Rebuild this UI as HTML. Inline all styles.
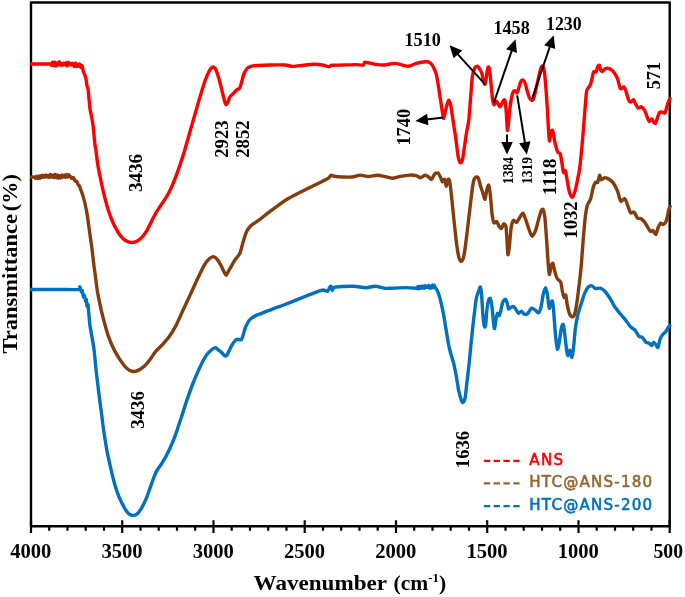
<!DOCTYPE html>
<html lang="en"><head><meta charset="utf-8"><title>FTIR spectra</title>
<style>html,body{margin:0;padding:0;background:#fff}svg{display:block}text{font-family:"Liberation Serif","DejaVu Serif",serif;font-weight:bold;fill:#000}.lg{font-family:"DejaVu Sans","Liberation Sans",sans-serif;font-weight:normal;stroke-width:0.6;stroke-linejoin:round;stroke-linecap:round}</style></head><body>
<svg width="685" height="597" viewBox="0 0 685 597">
<rect x="0" y="0" width="685" height="597" fill="#fff"/>
<rect x="31.0" y="2.5" width="638.7" height="523.7" fill="none" stroke="#000" stroke-linejoin="round" stroke-width="2.4"/>
<g fill="none" stroke-linejoin="round" stroke-linecap="butt" stroke-width="3.4">
<path stroke="#0070c0" d="M30.0 289.5C33.8 289.5 53.9 289.5 60.0 289.5C66.1 289.5 76.5 289.8 79.0 289.5C81.5 289.2 79.6 286.8 79.8 286.8C80.0 286.8 80.4 288.9 80.6 289.5C80.8 290.1 81.3 291.9 81.5 292.0C81.7 292.1 82.0 289.9 82.3 290.5C82.5 291.1 83.2 296.3 83.5 296.9C83.8 297.5 84.2 295.0 84.5 295.5C84.8 296.0 85.3 300.5 85.5 301.0C85.7 301.5 86.1 298.8 86.3 299.5C86.5 300.2 86.8 305.6 87.0 306.3C87.2 307.0 87.6 302.6 88.0 305.0C88.4 307.4 89.5 321.7 89.9 325.1C90.3 328.5 90.6 328.9 91.1 332.0C91.6 335.1 93.5 345.3 94.1 350.1C94.7 354.9 95.5 365.2 96.1 370.2C96.6 375.2 97.9 385.4 98.5 390.4C99.1 395.4 100.4 405.5 101.1 410.5C101.8 415.5 103.0 425.7 103.7 430.6C104.4 435.6 106.3 447.0 106.8 450.1C107.3 453.2 107.3 452.8 107.8 455.1C108.3 457.4 110.0 465.0 110.8 468.6C111.6 472.2 113.6 480.1 114.6 483.7C115.6 487.3 118.0 494.4 119.1 497.2C120.2 500.0 122.6 504.4 123.6 506.3C124.6 508.2 126.4 511.2 127.4 512.3C128.4 513.4 130.7 515.1 131.9 515.3C133.1 515.5 136.0 514.7 137.2 513.8C138.4 512.9 140.6 509.7 141.7 507.8C142.8 505.9 145.2 501.1 146.2 498.7C147.2 496.2 149.1 490.8 150.0 488.2C150.9 485.6 152.9 479.9 153.7 477.7C154.5 475.5 155.8 472.6 156.7 470.9C157.6 469.2 160.2 465.9 161.3 464.1C162.4 462.3 164.7 458.7 165.8 456.6C166.9 454.5 169.2 450.1 170.3 447.5C171.5 444.9 173.7 439.8 175.0 436.2C176.3 432.6 179.4 423.3 180.9 418.8C182.4 414.3 185.2 405.0 186.8 400.4C188.4 395.8 191.9 386.0 193.5 382.0C195.1 378.0 198.0 371.5 199.3 368.6C200.7 365.7 203.2 360.5 204.3 358.5C205.5 356.5 207.4 353.9 208.5 352.7C209.6 351.5 211.8 349.4 212.7 348.8C213.6 348.2 214.9 347.4 215.6 347.6C216.3 347.8 217.8 349.6 218.6 350.2C219.4 350.8 221.2 352.0 221.9 352.7C222.6 353.4 223.8 355.1 224.4 355.5C225.0 355.9 226.1 356.0 226.6 355.5C227.1 355.0 227.9 353.1 228.6 351.8C229.3 350.5 231.2 346.5 232.0 345.1C232.8 343.7 234.6 341.1 235.3 340.4C236.0 339.7 237.1 339.4 237.8 339.3C238.5 339.2 240.5 340.4 241.2 339.8C241.9 339.2 242.9 335.7 243.4 334.2C243.9 332.7 244.8 329.0 245.4 327.5C246.0 326.0 247.4 323.4 247.9 322.5C248.4 321.6 248.9 320.8 249.3 320.3C249.7 319.8 250.4 318.9 251.3 318.3C252.2 317.7 255.0 316.0 256.3 315.4C257.6 314.8 259.6 314.2 261.5 313.4C263.4 312.6 269.1 310.4 271.9 309.3C274.7 308.2 280.8 306.1 283.7 305.0C286.6 303.9 292.5 301.6 295.4 300.4C298.3 299.2 304.2 296.8 307.1 295.7C310.0 294.6 316.8 291.9 318.8 291.2C320.9 290.5 322.4 290.0 323.5 290.0C324.6 290.0 327.1 291.5 327.8 291.2C328.5 290.9 329.0 288.3 329.4 287.7C329.8 287.1 330.6 285.9 331.0 286.3C331.4 286.7 332.0 290.4 332.4 290.5C332.8 290.6 332.9 287.9 334.1 287.4C335.3 286.9 339.8 286.6 342.3 286.5C344.8 286.4 351.1 286.2 354.0 286.3C356.9 286.4 363.2 287.7 365.8 287.7C368.4 287.7 372.7 286.2 375.1 286.3C377.5 286.4 383.1 287.9 385.0 288.2C386.9 288.4 387.3 288.4 390.0 288.3C392.7 288.2 403.1 287.6 406.4 287.6C409.6 287.6 414.7 288.1 416.0 288.2C417.3 288.3 416.8 288.8 417.0 288.6C417.2 288.4 417.7 286.4 417.9 286.5C418.1 286.5 418.6 288.9 418.8 288.9C419.0 288.9 419.5 286.5 419.7 286.4C419.9 286.4 420.4 288.4 420.6 288.4C420.8 288.3 421.3 286.2 421.5 286.2C421.7 286.1 422.2 287.9 422.4 287.9C422.6 287.9 423.1 286.1 423.3 286.1C423.5 286.2 424.0 288.3 424.2 288.2C424.4 288.2 424.9 285.8 425.1 285.7C425.3 285.6 425.8 287.5 426.0 287.6C426.2 287.6 426.7 286.1 426.9 286.1C427.1 286.1 427.6 287.5 427.8 287.5C428.0 287.4 428.5 285.4 428.7 285.5C428.9 285.5 429.4 287.8 429.6 287.9C429.8 288.0 430.3 286.1 430.5 286.1C430.7 286.1 431.2 288.2 431.4 288.1C431.6 287.9 432.1 285.1 432.3 285.1C432.5 285.0 433.0 287.6 433.2 287.6C433.4 287.7 433.9 285.4 434.1 285.3C434.3 285.2 434.5 286.1 435.0 287.0C435.5 287.9 437.3 290.3 438.1 292.3C438.9 294.3 440.4 299.7 441.1 302.8C441.8 305.9 443.4 313.4 444.0 316.9C444.6 320.4 445.7 327.5 446.3 331.0C446.9 334.5 448.1 342.2 448.7 345.1C449.3 348.0 450.4 352.2 451.0 354.5C451.6 356.8 453.2 361.2 453.8 363.8C454.4 366.4 455.6 372.4 456.2 375.6C456.8 378.8 457.9 386.7 458.5 389.6C459.1 392.5 460.4 397.4 460.9 399.0C461.4 400.6 462.2 402.6 462.7 402.5C463.2 402.4 464.6 400.4 465.1 397.9C465.6 395.4 466.4 386.9 466.9 382.6C467.4 378.3 468.6 368.5 469.1 363.8C469.6 359.1 470.5 349.5 470.9 345.1C471.3 340.7 472.2 332.8 472.6 328.7C473.1 324.6 474.0 316.0 474.5 312.2C475.0 308.4 475.8 300.8 476.3 298.2C476.8 295.6 478.2 292.5 478.7 291.1C479.2 289.7 479.9 286.6 480.3 286.9C480.7 287.2 481.2 290.0 481.5 293.5C481.8 297.0 482.5 310.5 482.9 314.6C483.2 318.7 483.9 325.0 484.3 326.3C484.7 327.6 485.4 327.2 485.7 325.1C486.0 323.1 486.5 313.0 486.9 309.9C487.2 306.8 488.1 301.9 488.5 300.5C488.9 299.1 489.9 297.7 490.4 298.6C490.8 299.5 491.7 304.5 492.1 307.5C492.5 310.5 493.2 320.2 493.5 322.8C493.8 325.4 494.3 329.1 494.6 328.7C494.9 328.3 495.6 321.2 496.0 319.3C496.4 317.4 497.0 313.8 497.4 313.4C497.8 312.9 498.9 316.0 499.3 315.7C499.7 315.4 500.3 312.7 500.7 311.1C501.1 309.5 502.1 304.3 502.6 302.8C503.1 301.3 504.5 299.4 505.0 299.3C505.5 299.2 506.4 300.5 506.8 301.7C507.2 302.9 508.0 308.0 508.5 308.7C509.0 309.4 510.2 307.8 510.8 307.5C511.4 307.2 512.6 306.2 513.2 306.4C513.8 306.5 514.8 307.8 515.5 308.7C516.2 309.6 517.9 313.1 518.6 313.4C519.3 313.7 520.7 311.0 521.4 311.1C522.1 311.2 523.5 313.7 524.2 314.1C524.9 314.5 526.4 314.8 527.3 314.0C528.2 313.2 530.6 308.6 531.6 308.1C532.6 307.7 534.7 309.8 535.6 310.4C536.5 311.0 537.9 313.2 538.6 312.8C539.3 312.4 540.4 309.2 541.0 306.9C541.6 304.5 542.7 296.4 543.3 294.0C543.9 291.6 545.1 287.7 545.6 287.7C546.1 287.7 546.8 291.4 547.3 294.0C547.8 296.6 548.8 306.9 549.2 308.1C549.6 309.3 550.4 304.3 550.8 303.4C551.2 302.5 552.0 300.2 552.4 301.1C552.8 302.0 553.2 306.1 553.6 310.4C554.0 314.6 555.0 330.3 555.5 335.1C556.0 339.9 556.9 348.2 557.4 349.1C557.9 350.0 558.8 344.7 559.3 342.1C559.8 339.5 560.9 330.2 561.4 328.0C561.9 325.8 562.8 323.6 563.2 324.5C563.6 325.4 564.5 331.7 564.9 335.1C565.3 338.5 566.4 348.9 566.8 351.5C567.2 354.1 567.8 355.8 568.2 355.7C568.6 355.6 569.5 350.1 570.0 350.3C570.5 350.5 571.4 357.8 571.9 357.4C572.4 357.0 573.2 350.5 573.6 346.8C574.0 343.1 574.9 332.0 575.4 328.0C575.9 324.0 577.1 318.2 577.8 315.1C578.5 312.0 580.4 306.2 581.3 303.4C582.2 300.6 583.9 294.9 584.8 292.8C585.7 290.8 587.4 287.9 588.3 287.0C589.2 286.1 591.0 285.6 591.9 285.8C592.8 286.0 594.4 288.3 595.4 288.6C596.4 288.9 598.9 287.9 600.1 288.2C601.3 288.5 603.6 290.0 604.8 291.2C606.0 292.4 608.3 295.7 609.5 297.5C610.7 299.3 612.8 303.7 614.1 305.7C615.4 307.7 618.5 311.6 620.0 313.5C621.5 315.4 624.6 318.8 625.9 320.5C627.2 322.2 629.4 325.7 630.6 326.9C631.8 328.1 634.3 329.2 635.3 330.4C636.3 331.6 637.9 335.3 638.8 336.2C639.7 337.1 641.4 336.7 642.3 337.4C643.2 338.1 644.9 341.4 645.8 342.1C646.7 342.8 648.6 342.9 649.3 343.3C650.0 343.7 651.2 345.8 651.7 345.6C652.2 345.5 653.0 342.1 653.6 342.1C654.2 342.1 655.9 345.0 656.4 345.6C656.9 346.2 657.6 348.0 658.0 347.3C658.4 346.6 659.4 341.3 659.9 339.8C660.4 338.3 661.5 336.1 662.2 335.1C662.9 334.1 665.0 332.6 665.8 331.6C666.6 330.6 668.0 327.8 668.6 326.9C669.2 326.0 670.4 324.5 670.6 324.2"/>
<path stroke="#843c0c" d="M30.0 177.1C30.6 177.1 34.3 177.0 35.0 177.1C35.7 177.2 35.3 178.3 35.5 178.2C35.7 178.1 36.4 176.1 36.6 176.1C36.9 176.2 37.5 178.5 37.8 178.5C38.1 178.5 38.7 176.1 39.0 176.1C39.2 176.0 39.8 178.2 40.1 178.2C40.4 178.1 41.0 175.6 41.2 175.5C41.5 175.4 42.1 177.4 42.4 177.4C42.7 177.3 43.3 175.2 43.5 175.1C43.8 175.1 44.4 177.2 44.7 177.2C45.0 177.2 45.6 175.1 45.9 175.1C46.1 175.0 46.7 177.0 47.0 177.0C47.3 177.1 47.9 175.3 48.1 175.4C48.4 175.4 49.0 177.6 49.3 177.4C49.6 177.3 50.2 174.5 50.5 174.4C50.7 174.4 51.3 177.0 51.6 177.1C51.9 177.2 52.5 175.1 52.8 175.2C53.0 175.3 53.6 177.8 53.9 177.7C54.2 177.6 54.8 174.3 55.0 174.3C55.3 174.3 55.9 177.6 56.2 177.7C56.5 177.7 57.1 174.9 57.4 175.0C57.6 175.0 58.2 178.1 58.5 178.2C58.8 178.2 59.4 175.5 59.6 175.4C59.9 175.4 60.5 178.1 60.8 178.0C61.1 178.0 61.7 175.2 62.0 175.1C62.2 175.0 62.8 177.1 63.1 177.1C63.4 177.1 64.0 175.3 64.2 175.3C64.5 175.4 65.1 177.4 65.4 177.3C65.7 177.2 66.3 174.5 66.5 174.4C66.8 174.4 67.4 177.1 67.7 177.1C68.0 177.2 68.5 174.8 68.8 174.7C69.2 174.6 69.8 175.9 70.2 176.4C70.6 176.9 71.6 178.4 72.0 178.6C72.4 178.8 73.1 177.3 73.5 177.6C73.9 177.9 74.9 180.7 75.3 181.2C75.7 181.7 76.4 180.9 76.8 181.4C77.2 181.9 78.0 184.4 78.3 185.0C78.6 185.6 79.2 185.5 79.5 186.0C79.8 186.5 80.2 188.2 80.6 189.3C81.0 190.5 82.2 193.4 82.8 195.2C83.3 197.0 84.5 201.2 85.0 203.5C85.5 205.8 86.5 210.9 87.0 213.6C87.5 216.3 88.3 222.4 88.7 225.3C89.1 228.2 89.9 234.1 90.3 237.0C90.7 239.9 91.6 245.5 92.0 248.8C92.4 252.2 93.3 260.3 93.7 263.8C94.1 267.3 95.1 273.7 95.5 277.0C95.9 280.3 96.6 286.2 97.2 289.9C97.8 293.6 99.6 302.5 100.4 306.3C101.2 310.1 102.8 316.6 103.8 320.4C104.8 324.2 107.2 333.0 108.6 336.8C110.0 340.6 113.1 347.8 114.7 350.9C116.3 354.0 119.6 359.2 121.1 361.4C122.6 363.6 125.4 367.2 126.9 368.5C128.4 369.8 131.3 371.3 132.8 371.5C134.3 371.7 137.2 370.8 138.7 370.1C140.2 369.4 143.0 367.5 144.5 366.1C146.0 364.7 149.1 360.9 150.4 359.1C151.7 357.4 153.6 353.9 155.1 352.1C156.6 350.3 160.3 346.9 162.1 345.0C163.8 343.1 167.3 339.3 169.1 336.8C170.9 334.3 174.4 328.5 176.2 325.1C178.0 321.7 181.4 313.6 183.2 309.8C185.0 306.0 188.5 298.4 190.3 294.6C192.1 290.8 195.6 283.0 197.3 279.3C199.1 275.6 202.8 267.8 204.3 265.2C205.8 262.6 207.8 260.0 209.0 258.9C210.2 257.8 212.7 256.5 213.7 256.6C214.7 256.7 216.3 258.3 217.2 259.4C218.1 260.5 219.9 263.6 220.8 265.2C221.7 266.8 223.6 271.0 224.3 272.3C225.0 273.6 225.7 275.4 226.2 275.3C226.7 275.2 227.9 272.2 228.5 271.1C229.1 270.0 230.5 267.8 231.3 266.4C232.1 265.0 233.6 261.9 234.7 260.3C235.8 258.7 238.9 255.4 239.9 253.2C240.9 251.0 242.1 245.3 242.9 242.7C243.7 240.1 245.4 234.2 246.4 232.1C247.4 229.9 249.5 227.0 251.1 225.5C252.7 224.0 257.2 221.4 259.3 219.9C261.4 218.4 265.3 215.0 267.5 213.3C269.7 211.6 274.5 208.0 276.9 206.3C279.2 204.6 283.7 201.3 286.3 199.7C288.9 198.1 295.1 194.9 298.0 193.4C300.9 191.9 306.9 189.0 309.8 187.5C312.7 186.0 319.2 182.9 321.5 181.7C323.8 180.5 327.3 179.0 328.5 178.2C329.7 177.4 330.2 175.5 330.9 175.3C331.6 175.1 332.9 176.1 334.4 176.3C335.9 176.5 340.4 176.9 342.6 177.0C344.8 177.1 349.8 177.2 352.0 177.0C354.2 176.8 358.1 175.2 360.2 175.1C362.2 175.0 366.3 176.5 368.4 176.5C370.5 176.5 375.0 175.3 377.0 175.3C379.0 175.3 382.2 175.9 384.1 176.3C386.0 176.7 390.2 178.2 392.3 178.2C394.4 178.2 398.3 176.7 400.5 176.3C402.7 175.9 407.8 175.2 409.9 175.1C411.9 175.0 415.6 175.5 416.9 175.8C418.2 176.1 419.4 177.8 420.4 177.7C421.4 177.6 424.1 175.4 425.1 175.3C426.1 175.2 427.9 176.5 428.7 177.0C429.5 177.5 430.8 179.7 431.5 179.3C432.2 179.0 433.7 175.0 434.5 174.2C435.3 173.4 437.3 172.7 438.0 173.0C438.7 173.3 439.9 175.9 440.4 177.0C440.9 178.1 441.8 181.4 442.3 181.7C442.8 182.0 444.1 178.7 444.6 179.3C445.1 179.9 445.8 186.4 446.2 186.4C446.6 186.4 447.7 179.9 448.1 179.3C448.6 178.7 449.4 179.5 449.8 181.7C450.2 183.9 451.1 192.1 451.6 196.9C452.1 201.7 453.4 214.8 454.0 220.4C454.6 226.0 455.7 237.0 456.3 241.5C456.9 246.0 458.1 254.2 458.7 256.7C459.3 259.2 460.4 261.2 461.0 261.4C461.6 261.5 462.8 260.1 463.4 257.9C464.0 255.7 465.1 248.5 465.7 243.8C466.3 239.1 467.8 226.3 468.5 220.4C469.2 214.5 470.7 201.9 471.3 196.9C471.9 191.9 473.1 183.0 473.7 180.5C474.3 178.0 475.4 177.3 476.0 177.0C476.6 176.7 477.9 177.2 478.4 178.2C478.9 179.2 479.8 183.4 480.3 185.2C480.8 186.9 482.0 190.4 482.6 192.2C483.2 194.0 484.5 199.6 485.0 199.3C485.5 199.0 486.3 191.7 486.8 189.9C487.3 188.1 488.3 184.6 488.7 185.2C489.1 185.8 489.9 191.1 490.3 194.6C490.7 198.1 491.6 209.8 492.0 213.3C492.4 216.8 493.3 221.7 493.9 222.7C494.5 223.7 496.1 221.2 496.7 221.6C497.3 222.0 498.4 225.3 499.0 226.2C499.6 227.1 500.8 228.9 501.4 228.6C502.0 228.3 503.1 224.1 503.7 223.9C504.3 223.8 505.6 223.6 506.1 227.4C506.6 231.2 507.5 252.3 507.9 254.4C508.3 256.4 509.2 247.2 509.6 243.8C510.0 240.4 510.7 230.3 511.2 227.4C511.7 224.5 512.9 221.0 513.6 220.4C514.3 219.8 515.8 222.7 516.6 222.3C517.4 221.9 519.3 218.0 520.1 216.9C520.9 215.8 522.3 212.9 523.0 213.3C523.7 213.7 525.3 218.6 526.0 220.4C526.7 222.2 527.8 226.0 528.5 228.0C529.2 230.0 531.1 235.9 532.0 236.2C532.9 236.5 534.7 232.7 535.6 230.4C536.5 228.1 538.4 220.0 539.1 217.5C539.8 215.0 540.9 211.4 541.4 210.4C541.9 209.4 542.9 208.8 543.3 209.7C543.7 210.6 544.5 213.7 544.9 217.5C545.3 221.3 546.2 234.4 546.6 239.8C547.0 245.2 547.7 256.6 548.0 260.9C548.3 265.2 548.9 273.9 549.3 274.5C549.7 275.1 550.8 267.0 551.3 265.6C551.8 264.2 552.5 262.7 552.9 263.3C553.3 263.9 554.1 268.7 554.6 270.6C555.1 272.5 556.4 277.1 557.2 278.5C558.0 279.9 560.0 280.5 560.7 282.2C561.4 283.9 562.1 290.1 562.5 292.0C562.9 293.9 563.8 297.1 564.2 297.5C564.6 297.9 565.4 294.3 565.8 295.2C566.2 296.1 566.7 302.2 567.2 304.6C567.7 307.0 569.0 312.5 569.6 314.0C570.2 315.5 571.3 316.7 571.9 316.8C572.5 316.9 573.7 316.6 574.3 315.1C574.9 313.6 576.0 308.2 576.6 304.6C577.2 301.0 578.4 290.9 579.0 286.0C579.6 281.1 580.8 270.8 581.3 265.0C581.8 259.2 582.7 245.6 583.2 239.8C583.7 234.0 584.6 223.0 585.1 218.7C585.6 214.4 586.5 208.2 587.2 205.7C587.9 203.2 590.0 200.9 590.7 198.7C591.4 196.5 592.4 190.2 593.0 188.2C593.6 186.1 594.8 183.0 595.4 182.3C596.0 181.6 597.2 183.2 597.7 182.3C598.2 181.4 599.2 175.5 599.6 175.2C600.0 174.9 600.6 179.6 601.2 179.9C601.9 180.2 603.8 177.7 604.8 177.6C605.8 177.5 608.4 178.8 609.5 179.5C610.6 180.2 612.7 182.0 613.7 183.5C614.7 185.0 616.8 189.5 617.7 191.7C618.6 193.9 619.8 200.2 620.7 201.1C621.6 202.0 623.8 198.1 624.7 198.7C625.6 199.3 627.1 203.9 627.8 205.7C628.5 207.5 629.8 212.0 630.6 212.8C631.4 213.6 633.2 211.4 634.1 212.1C635.0 212.8 636.7 217.4 637.6 218.2C638.5 219.0 640.2 218.2 641.1 218.7C642.0 219.2 643.8 221.0 644.7 222.2C645.6 223.4 647.5 226.8 648.2 228.0C648.9 229.2 649.9 231.3 650.5 231.6C651.1 231.9 652.2 230.0 652.9 230.4C653.5 230.8 655.1 234.9 655.7 234.6C656.3 234.3 657.4 229.4 658.0 228.0C658.6 226.6 659.9 223.7 660.6 223.3C661.3 222.9 662.7 224.8 663.4 224.5C664.1 224.2 665.6 222.8 666.2 221.0C666.9 219.2 668.2 212.1 668.6 210.4C669.0 208.7 669.4 208.2 669.6 207.5C669.9 206.8 670.5 205.5 670.6 205.2"/>
<path stroke="#ff0000" d="M30.0 64.0C31.9 64.0 42.4 64.0 45.0 64.0C47.6 64.0 50.2 63.8 51.0 64.0C51.8 64.2 51.3 65.5 51.5 65.3C51.7 65.1 52.3 62.1 52.6 62.2C52.9 62.2 53.4 65.6 53.7 65.5C54.0 65.5 54.5 62.0 54.8 62.1C55.1 62.1 55.6 65.9 55.9 66.0C56.2 66.1 56.7 63.1 57.0 63.0C57.3 62.8 57.8 65.1 58.1 64.9C58.4 64.8 58.9 61.7 59.2 61.7C59.5 61.7 60.2 64.8 60.5 65.0C60.8 65.2 61.3 63.2 61.6 63.2C61.9 63.2 62.4 65.2 62.7 65.2C63.0 65.1 63.5 63.2 63.8 63.1C64.1 63.1 64.6 64.8 64.9 64.8C65.2 64.7 65.7 62.7 66.0 62.8C66.3 63.0 66.8 65.9 67.1 65.8C67.4 65.7 67.9 62.5 68.2 62.4C68.5 62.2 69.0 64.7 69.3 64.8C69.6 65.0 70.1 63.3 70.4 63.3C70.7 63.3 71.2 65.0 71.5 65.0C71.8 65.0 72.3 63.1 72.6 63.1C72.9 63.1 73.5 64.5 73.7 64.9C73.9 65.3 74.1 66.7 74.3 66.4C74.5 66.2 75.1 63.0 75.4 63.0C75.7 63.0 76.2 66.3 76.5 66.4C76.8 66.6 77.3 64.2 77.6 64.2C77.9 64.1 78.4 66.2 78.7 66.2C79.0 66.2 79.5 63.9 79.8 64.1C80.1 64.2 80.6 67.1 80.9 67.3C81.2 67.5 81.8 65.1 82.1 65.5C82.4 65.9 82.8 69.5 83.1 70.7C83.4 71.9 84.3 73.7 84.7 74.7C85.1 75.7 85.7 77.5 86.0 78.8C86.3 80.1 86.5 83.6 86.8 85.0C87.1 86.4 87.9 87.9 88.2 90.0C88.5 92.1 89.0 99.5 89.3 102.0C89.5 104.5 89.9 108.2 90.2 110.0C90.5 111.8 91.2 114.1 91.5 116.0C91.8 117.9 92.7 122.6 93.0 125.0C93.3 127.4 93.8 132.5 94.0 135.0C94.2 137.5 94.8 143.1 95.0 145.0C95.2 146.9 95.6 147.7 95.9 150.0C96.2 152.3 97.1 160.1 97.6 163.4C98.1 166.8 99.5 173.7 100.1 176.8C100.7 179.9 101.9 185.4 102.6 188.5C103.3 191.6 105.0 198.6 105.9 201.9C106.8 205.2 108.9 212.2 110.1 215.3C111.3 218.5 113.8 224.5 115.2 227.1C116.6 229.7 119.5 234.5 121.0 236.3C122.5 238.1 125.5 240.5 126.9 241.3C128.3 242.1 130.7 242.5 131.9 242.5C133.2 242.5 135.6 242.0 136.9 241.3C138.2 240.6 140.7 238.5 142.0 237.1C143.3 235.7 145.8 232.5 147.0 230.4C148.2 228.3 150.9 222.5 152.0 220.4C153.1 218.3 154.6 215.2 155.4 213.7C156.2 212.2 157.7 210.2 158.7 208.6C159.7 207.0 162.4 203.1 163.7 201.1C165.0 199.1 167.5 195.1 168.8 192.7C170.1 190.3 172.6 184.8 173.8 181.8C175.1 178.8 177.6 172.0 178.8 168.4C180.1 164.8 183.0 155.8 183.8 153.4C184.6 151.0 184.1 152.3 185.1 148.8C186.1 145.3 190.1 131.3 191.8 125.4C193.5 119.5 196.8 107.6 198.5 101.9C200.2 96.2 203.8 84.1 205.2 80.2C206.6 76.3 208.7 72.1 209.5 70.5C210.3 68.9 211.3 68.0 211.8 67.6C212.3 67.2 212.9 66.8 213.4 67.0C213.9 67.2 215.0 67.7 215.7 69.3C216.4 70.9 218.4 76.8 219.3 79.9C220.2 83.0 222.1 91.1 222.8 94.0C223.5 96.9 224.6 101.6 225.1 102.9C225.6 104.2 226.1 104.7 226.5 104.5C226.9 104.3 227.8 102.4 228.2 101.5C228.6 100.6 229.2 98.0 229.8 97.0C230.4 96.0 232.4 94.4 233.3 93.5C234.2 92.6 236.1 90.4 236.9 89.7C237.7 89.0 239.1 89.0 239.7 88.1C240.3 87.2 241.1 84.0 241.6 82.2C242.1 80.4 243.2 75.7 243.9 74.0C244.6 72.3 246.1 69.5 247.0 68.6C247.9 67.6 249.7 66.8 250.9 66.4C252.1 66.0 254.3 65.7 256.8 65.5C259.3 65.3 267.4 65.1 270.9 65.0C274.4 64.9 282.2 64.8 285.0 65.0C287.8 65.2 290.9 66.4 293.2 66.4C295.5 66.4 300.9 65.5 303.7 65.2C306.5 64.9 313.1 64.3 315.5 64.3C317.9 64.3 320.8 64.7 322.5 65.0C324.2 65.3 328.2 66.9 329.4 66.9C330.5 66.9 329.9 65.5 331.7 65.3C333.5 65.1 340.6 65.1 343.5 65.0C346.4 64.9 352.7 64.6 355.2 64.6C357.7 64.6 362.2 65.3 363.4 65.0C364.6 64.7 363.7 62.3 365.0 62.2C366.3 62.1 371.6 63.7 374.0 64.1C376.4 64.4 381.9 65.1 384.5 65.0C387.1 64.9 392.2 63.2 395.1 63.4C398.0 63.5 405.4 66.2 408.0 66.2C410.6 66.2 414.0 64.0 416.2 63.4C418.4 62.8 423.8 61.8 425.6 61.7C427.4 61.6 429.4 62.2 430.3 62.8C431.2 63.4 432.3 65.2 433.0 66.5C433.7 67.8 435.4 71.0 436.1 73.6C436.8 76.2 438.1 83.9 438.6 87.0C439.1 90.1 439.8 95.6 440.3 98.7C440.8 101.8 442.0 109.6 442.4 112.0C442.8 114.4 443.4 118.6 443.8 118.2C444.2 117.8 445.4 110.7 446.0 108.5C446.6 106.3 448.0 100.6 448.6 100.3C449.2 100.0 450.3 103.1 450.9 106.2C451.5 109.3 453.1 121.0 453.7 125.0C454.3 129.0 455.2 134.2 455.8 138.2C456.4 142.2 457.6 153.8 458.2 156.9C458.8 160.0 459.9 162.7 460.5 162.8C461.1 163.0 462.1 161.8 462.8 158.1C463.5 154.4 465.6 138.2 466.4 133.5C467.1 128.8 468.2 125.1 468.8 120.1C469.4 115.1 470.4 99.3 470.9 93.8C471.3 88.3 471.9 79.5 472.4 76.3C472.9 73.1 474.0 69.5 474.6 68.2C475.2 66.9 476.9 66.0 477.5 66.1C478.1 66.2 479.1 68.1 479.7 69.0C480.2 69.9 481.4 71.9 481.9 73.4C482.4 74.9 483.0 79.3 483.4 80.7C483.8 82.1 484.7 84.7 485.1 84.3C485.5 83.9 486.0 79.7 486.3 77.7C486.6 75.7 487.4 69.5 487.7 68.2C488.0 66.9 488.5 66.7 488.8 67.2C489.1 67.7 489.6 69.3 489.9 71.9C490.2 74.5 491.0 84.3 491.4 88.0C491.8 91.7 492.4 99.0 492.8 101.1C493.2 103.2 493.8 104.7 494.3 104.7C494.8 104.7 496.0 101.2 496.5 101.1C497.0 101.0 497.8 103.3 498.2 104.0C498.6 104.7 499.6 107.0 500.1 106.9C500.6 106.8 501.4 104.2 501.9 103.3C502.4 102.4 503.4 100.1 503.8 99.9C504.2 99.7 505.0 100.0 505.3 101.8C505.6 103.6 506.1 110.6 506.4 114.2C506.7 117.8 507.1 129.2 507.4 130.3C507.7 131.4 508.2 125.4 508.5 123.0C508.8 120.6 509.2 114.4 509.6 111.3C510.0 108.2 510.9 100.7 511.4 98.2C511.9 95.7 512.8 92.5 513.3 91.6C513.8 90.7 514.8 90.7 515.2 90.9C515.7 91.1 516.5 93.3 516.9 93.1C517.3 92.9 517.9 90.8 518.4 89.4C518.9 88.0 520.1 83.3 520.6 82.1C521.1 80.9 522.2 79.8 522.8 79.9C523.3 80.0 524.5 81.4 525.0 82.8C525.5 84.2 526.7 89.1 527.2 90.9C527.7 92.7 528.7 96.2 529.3 97.4C529.9 98.6 531.2 100.3 531.8 100.4C532.3 100.5 533.2 99.6 533.7 98.2C534.2 96.8 535.3 92.1 535.9 89.4C536.5 86.7 538.2 79.0 538.8 76.3C539.4 73.6 540.5 68.8 541.0 67.5C541.5 66.2 542.5 65.5 542.9 66.1C543.3 66.6 544.0 69.4 544.4 71.9C544.8 74.5 545.4 81.9 545.8 86.5C546.2 91.1 547.0 103.7 547.3 108.4C547.6 113.1 547.9 120.0 548.2 124.1C548.5 128.2 549.1 139.9 549.4 141.0C549.7 142.1 550.4 134.3 550.8 133.0C551.2 131.7 552.2 129.7 552.6 130.2C553.0 130.7 553.7 135.3 554.0 137.0C554.3 138.7 554.6 141.6 555.1 143.5C555.6 145.4 557.0 150.6 557.6 151.9C558.2 153.2 559.7 152.6 560.2 153.9C560.7 155.2 561.4 159.7 561.8 162.0C562.2 164.3 563.1 171.4 563.5 172.5C563.9 173.6 564.8 169.5 565.3 170.5C565.8 171.5 566.7 177.7 567.2 180.4C567.7 183.1 568.8 190.0 569.4 192.1C570.0 194.2 571.5 197.4 572.2 197.2C572.9 197.0 574.5 192.8 575.2 190.5C575.9 188.2 577.2 181.2 577.7 178.7C578.2 176.2 579.0 173.3 579.4 170.4C579.8 167.5 580.7 159.5 581.1 155.3C581.5 151.1 582.4 141.7 582.8 136.9C583.2 132.1 584.0 121.2 584.4 116.8C584.8 112.4 585.3 105.4 585.6 102.1C585.9 98.8 586.2 92.5 586.8 90.4C587.4 88.3 589.5 86.7 590.1 85.3C590.7 83.9 591.4 81.2 591.8 79.5C592.2 77.8 593.0 72.9 593.5 71.9C594.0 71.0 595.5 72.5 596.0 71.9C596.5 71.3 597.3 67.7 597.7 66.9C598.1 66.1 599.0 64.8 599.4 65.2C599.8 65.6 600.3 69.5 600.7 70.2C601.1 70.9 602.1 71.3 602.7 71.1C603.3 70.9 604.6 68.8 605.3 68.5C606.0 68.2 607.8 68.3 608.6 68.5C609.4 68.7 611.2 69.5 612.0 70.2C612.8 70.9 614.6 73.2 615.3 74.4C616.0 75.6 617.2 77.7 617.8 79.5C618.4 81.3 619.6 87.8 620.4 88.7C621.2 89.6 623.4 86.6 624.1 87.0C624.8 87.4 625.6 90.3 626.2 92.0C626.8 93.7 628.2 99.1 628.8 100.4C629.4 101.7 630.2 102.2 630.8 102.1C631.4 102.0 632.9 99.4 633.5 99.6C634.1 99.8 634.9 102.8 635.5 103.8C636.1 104.8 637.3 107.6 638.0 108.0C638.7 108.4 640.6 106.5 641.4 106.8C642.2 107.1 644.0 109.2 644.7 110.5C645.4 111.8 646.6 115.8 647.2 117.2C647.8 118.6 648.6 121.2 649.2 121.4C649.8 121.6 651.3 118.8 651.9 118.9C652.5 119.0 653.4 121.8 653.9 122.3C654.4 122.8 655.1 123.7 655.6 123.1C656.1 122.5 657.1 118.6 657.6 117.2C658.1 115.8 659.2 112.8 659.8 112.2C660.4 111.6 661.7 112.1 662.3 112.2C662.9 112.3 664.3 113.7 664.9 113.0C665.5 112.3 666.5 107.9 667.0 106.3C667.5 104.7 668.5 101.5 669.0 100.4C669.5 99.3 670.4 97.6 670.6 97.2"/>
</g>
<path d="M31.0 520.3 V533.0M49.2 526.2 V530.8M67.5 526.2 V530.8M85.7 526.2 V530.8M104.0 526.2 V530.8M122.2 520.3 V533.0M140.5 526.2 V530.8M158.7 526.2 V530.8M177.0 526.2 V530.8M195.2 526.2 V530.8M213.5 520.3 V533.0M231.7 526.2 V530.8M250.0 526.2 V530.8M268.2 526.2 V530.8M286.5 526.2 V530.8M304.7 520.3 V533.0M323.0 526.2 V530.8M341.2 526.2 V530.8M359.5 526.2 V530.8M377.7 526.2 V530.8M396.0 520.3 V533.0M414.2 526.2 V530.8M432.5 526.2 V530.8M450.7 526.2 V530.8M469.0 526.2 V530.8M487.2 520.3 V533.0M505.5 526.2 V530.8M523.7 526.2 V530.8M542.0 526.2 V530.8M560.2 526.2 V530.8M578.5 520.3 V533.0M596.7 526.2 V530.8M615.0 526.2 V530.8M633.2 526.2 V530.8M651.5 526.2 V530.8M669.7 520.3 V533.0" stroke="#000" stroke-width="2.2" fill="none"/>
<text x="30.8" y="557.5" font-size="20" text-anchor="middle" textLength="41.2" lengthAdjust="spacingAndGlyphs">4000</text>
<text x="122.0" y="557.5" font-size="20" text-anchor="middle" textLength="41.2" lengthAdjust="spacingAndGlyphs">3500</text>
<text x="213.3" y="557.5" font-size="20" text-anchor="middle" textLength="41.2" lengthAdjust="spacingAndGlyphs">3000</text>
<text x="304.5" y="557.5" font-size="20" text-anchor="middle" textLength="41.2" lengthAdjust="spacingAndGlyphs">2500</text>
<text x="395.8" y="557.5" font-size="20" text-anchor="middle" textLength="41.2" lengthAdjust="spacingAndGlyphs">2000</text>
<text x="487.0" y="557.5" font-size="20" text-anchor="middle" textLength="41.2" lengthAdjust="spacingAndGlyphs">1500</text>
<text x="578.3" y="557.5" font-size="20" text-anchor="middle" textLength="41.2" lengthAdjust="spacingAndGlyphs">1000</text>
<text x="668.3" y="557.5" font-size="20" text-anchor="middle" textLength="29.6" lengthAdjust="spacingAndGlyphs">500</text>
<text x="253.6" y="589.6" font-size="21" textLength="133.4" lengthAdjust="spacingAndGlyphs">Wavenumber</text>
<text x="393.6" y="589.6" font-size="21" textLength="52.6" lengthAdjust="spacingAndGlyphs">(cm<tspan font-size="12.5" dy="-7.5">-1</tspan><tspan dy="7.5">)</tspan></text>
<text transform="translate(17,353.6) rotate(-90)" font-size="20.5" textLength="139.5" lengthAdjust="spacingAndGlyphs">Transmittance</text>
<text transform="translate(17,211.2) rotate(-90)" font-size="20.5" textLength="37" lengthAdjust="spacingAndGlyphs">(%)</text>
<path d="M443.2 117.5 L426.8 119.6" stroke="#000" stroke-width="2.0" fill="none"/>
<path d="M415.4 121.1 L427.1 113.7 L428.5 125.2 Z" fill="#000"/>
<path d="M485.1 84.3 L457.2 53.7" stroke="#000" stroke-width="2.0" fill="none"/>
<path d="M449.5 45.2 L462.2 50.5 L453.6 58.3 Z" fill="#000"/>
<path d="M493.9 102.6 L511.9 50.2" stroke="#000" stroke-width="2.0" fill="none"/>
<path d="M515.6 39.3 L517.0 53.0 L506.1 49.2 Z" fill="#000"/>
<path d="M531.8 99.6 L550.0 46.2" stroke="#000" stroke-width="2.0" fill="none"/>
<path d="M553.7 35.3 L555.2 49.0 L544.2 45.3 Z" fill="#000"/>
<path d="M507.0 134.6 L507.0 143.1" stroke="#000" stroke-width="2.0" fill="none"/>
<path d="M507.0 154.6 L501.2 142.1 L512.8 142.1 Z" fill="#000"/>
<path d="M517.2 95.3 L525.0 143.2" stroke="#000" stroke-width="2.0" fill="none"/>
<path d="M526.8 154.6 L519.1 143.2 L530.5 141.3 Z" fill="#000"/>
<text x="404.5" y="45.9" font-size="18.5" textLength="36.3" lengthAdjust="spacingAndGlyphs">1510</text>
<text x="493.5" y="34.2" font-size="18.5" textLength="36.2" lengthAdjust="spacingAndGlyphs">1458</text>
<text x="546.1" y="30.1" font-size="18.5" textLength="35.5" lengthAdjust="spacingAndGlyphs">1230</text>
<text transform="translate(142.2,173.0) rotate(-90)" font-size="19.5" font-weight="bold" text-anchor="middle" textLength="38.2" lengthAdjust="spacingAndGlyphs">3436</text>
<text transform="translate(227.5,139.0) rotate(-90)" font-size="19.5" font-weight="bold" text-anchor="middle" textLength="37.5" lengthAdjust="spacingAndGlyphs">2923</text>
<text transform="translate(248.6,139.0) rotate(-90)" font-size="19.5" font-weight="bold" text-anchor="middle" textLength="37.5" lengthAdjust="spacingAndGlyphs">2852</text>
<text transform="translate(409.9,127.2) rotate(-90)" font-size="19.5" font-weight="bold" text-anchor="middle" textLength="36.8" lengthAdjust="spacingAndGlyphs">1740</text>
<text transform="translate(513.3,170.4) rotate(-90)" font-size="14.0" font-weight="bold" text-anchor="middle" textLength="27.0" lengthAdjust="spacingAndGlyphs">1384</text>
<text transform="translate(532.1,170.4) rotate(-90)" font-size="14.0" font-weight="bold" text-anchor="middle" textLength="27.0" lengthAdjust="spacingAndGlyphs">1319</text>
<text transform="translate(556.0,176.8) rotate(-90)" font-size="19.5" font-weight="bold" text-anchor="middle" textLength="36.8" lengthAdjust="spacingAndGlyphs">1118</text>
<text transform="translate(577.1,220.0) rotate(-90)" font-size="19.5" font-weight="bold" text-anchor="middle" textLength="37.4" lengthAdjust="spacingAndGlyphs">1032</text>
<text transform="translate(660.2,75.6) rotate(-90)" font-size="19.0" font-weight="normal" text-anchor="middle" textLength="27.4" lengthAdjust="spacingAndGlyphs">571</text>
<text transform="translate(144.0,410.0) rotate(-90)" font-size="19.5" font-weight="bold" text-anchor="middle" textLength="37.6" lengthAdjust="spacingAndGlyphs">3436</text>
<text transform="translate(469.4,449.5) rotate(-90)" font-size="19.5" font-weight="bold" text-anchor="middle" textLength="37.3" lengthAdjust="spacingAndGlyphs">1636</text>
<path d="M483.8 460.8 H519.7" stroke="#ff0000" stroke-width="2.2" stroke-dasharray="6.4 3.4" fill="none"/>
<text class="lg" x="529.3" y="464.9" font-size="15.1" style="fill:#ff0000;stroke:#ff0000" textLength="33.8" lengthAdjust="spacing">ANS</text>
<path d="M483.8 483.3 H519.7" stroke="#996633" stroke-width="2.2" stroke-dasharray="6.4 3.4" fill="none"/>
<text class="lg" x="529.3" y="487.4" font-size="15.1" style="fill:#996633;stroke:#996633" textLength="122.8" lengthAdjust="spacing">HTC@ANS-180</text>
<path d="M483.8 506.2 H519.7" stroke="#0070c0" stroke-width="2.2" stroke-dasharray="6.4 3.4" fill="none"/>
<text class="lg" x="529.3" y="509.9" font-size="15.1" style="fill:#0070c0;stroke:#0070c0" textLength="122.8" lengthAdjust="spacing">HTC@ANS-200</text>
</svg></body></html>
